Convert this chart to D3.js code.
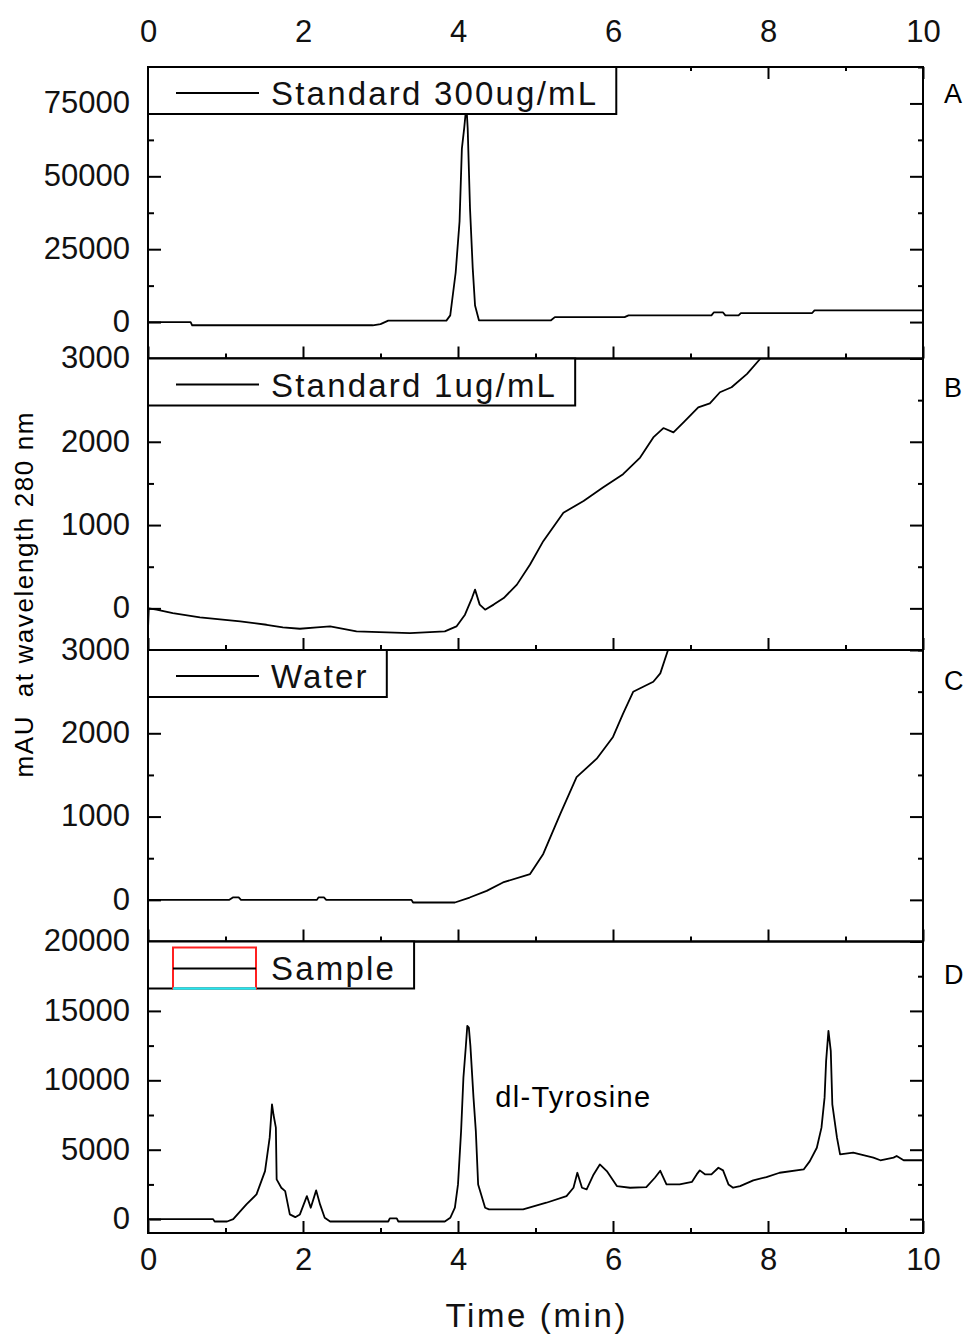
<!DOCTYPE html>
<html>
<head>
<meta charset="utf-8">
<script src="https://cdn.jsdelivr.net/npm/d3@7/dist/d3.min.js"></script>
<style>
  body { margin: 0; background: #fff; }
  svg { display: block; font-family: 'Liberation Sans', Arial, sans-serif; }
</style>
</head>
<body>
<div id="graf"></div>
<script>
// time axis (min)
var timeTicks = [0, 2, 4, 6, 8, 10]
var timeMinor = [1, 3, 5, 7, 9]

// panel letters and legend names
var panelLetters = ['A', 'B', 'C', 'D']
var legendNames = ['Standard 300ug/mL', 'Standard 1ug/mL', 'Water', 'Sample']

// y range and ticks of every panel (mAU)
var domainA = [-12500, 87500]
var domainB = [-500, 3000]
var domainC = [-500, 3000]
var domainD = [-1000, 20000]
var ticksA = [0, 25000, 50000, 75000]
var ticksB = [0, 1000, 2000, 3000]
var ticksC = [0, 1000, 2000, 3000]
var ticksD = [0, 5000, 10000, 15000, 20000]
var minorA = [-12500, 12500, 37500, 62500, 87500]
var minorB = [-500, 500, 1500, 2500]
var minorC = [-500, 500, 1500, 2500]
var minorD = [2500, 7500, 12500, 17500]

// chromatograms, [time, mAU]
var standard300 = [[0,0],[0.55,0],[0.57,-1100],[2.9,-1100],[3.0,-700],[3.1,500],[3.85,500],[3.9,2300],[3.97,17000],
  [4.02,34500],[4.05,59500],[4.08,66500],[4.1,72000],[4.11,73500],[4.125,66500],[4.155,39000],[4.19,18500],[4.22,5700],
  [4.27,600],[5.2,600],[5.25,1700],[6.15,1700],[6.2,2300],[7.27,2300],[7.3,3300],[7.42,3300],[7.45,2300],[7.62,2300],
  [7.65,3100],[8.57,3100],[8.6,4000],[10,4000]]

var standard1 = [[0,-250],[0.01,0],[0.11,-16],[0.32,-56],[0.67,-108],[1.19,-157],[1.53,-197],[1.74,-229],[1.96,-245],
  [2.18,-229],[2.35,-217],[2.69,-277],[3.38,-297],[3.83,-277],[3.98,-217],[4.09,-76],[4.18,124],[4.22,225],[4.28,45],
  [4.35,-16],[4.46,45],[4.59,124],[4.76,285],[4.93,526],[5.10,807],[5.36,1148],[5.62,1289],[5.87,1450],[6.13,1611],
  [6.35,1810],[6.52,2052],[6.65,2165],[6.78,2113],[6.91,2233],[7.10,2414],[7.25,2462],[7.38,2595],[7.53,2655],
  [7.73,2816],[7.90,2997],[8.2,3300]]

var water = [[0,0],[1.05,0],[1.1,30],[1.17,30],[1.2,0],[2.18,0],[2.2,30],[2.27,30],[2.3,0],[3.4,0],[3.42,-32],
  [3.96,-32],[4.15,28],[4.37,108],[4.58,209],[4.93,310],[5.10,551],[5.32,1033],[5.53,1474],[5.79,1695],[6.00,1956],
  [6.13,2237],[6.26,2498],[6.39,2559],[6.52,2619],[6.61,2719],[6.71,3000],[6.8,3300]]

var sample = [[0,0],[0.84,0],[0.86,-170],[1.02,-170],[1.10,0],[1.27,1060],[1.40,1780],[1.51,3460],[1.57,5870],
  [1.60,8270],[1.62,7500],[1.65,6590],[1.66,2860],[1.72,2260],[1.77,2020],[1.83,340],[1.90,140],[1.96,340],[2.05,1660],
  [2.10,820],[2.17,2070],[2.22,1060],[2.28,100],[2.35,-170],[3.10,-170],[3.12,50],[3.21,50],[3.23,-170],[3.83,-170],
  [3.90,95],[3.96,820],[4.00,2500],[4.04,6350],[4.07,10200],[4.10,12360],[4.12,13920],[4.14,13800],[4.16,12480],
  [4.20,8750],[4.23,6350],[4.26,2500],[4.35,820],[4.40,700],[4.84,700],[5.14,1180],[5.40,1660],[5.49,2260],[5.54,3340],
  [5.60,2260],[5.66,2140],[5.75,3220],[5.83,3940],[5.92,3460],[6.05,2380],[6.22,2260],[6.43,2310],[6.54,2980],
  [6.61,3480],[6.69,2500],[6.86,2500],[7.02,2690],[7.08,3220],[7.12,3510],[7.19,3220],[7.27,3220],[7.36,3700],
  [7.42,3510],[7.49,2500],[7.55,2260],[7.64,2380],[7.81,2790],[7.98,3030],[8.15,3340],[8.46,3580],[8.54,4180],
  [8.63,5140],[8.69,6590],[8.73,8750],[8.75,11400],[8.78,13560],[8.81,12120],[8.83,8270],[8.89,5870],[8.93,4670],
  [9.10,4790],[9.19,4670],[9.36,4430],[9.45,4240],[9.62,4430],[9.66,4550],[9.75,4240],[10,4240]]

// peak annotation in panel D: [text, time, mAU]
var annotation = ['dl-Tyrosine', 4.48, 8100]

var panels = [
  { domain: domainA, ticks: ticksA, minor: minorA, data: standard300 },
  { domain: domainB, ticks: ticksB, minor: minorB, data: standard1 },
  { domain: domainC, ticks: ticksC, minor: minorC, data: water },
  { domain: domainD, ticks: ticksD, minor: minorD, data: sample }
]

var ancho_total = 968, alto_total = 1335
var margins = { top: 67, left: 148, right: 45, bottom: 102 }
var ancho = ancho_total - margins.left - margins.right
var alto = alto_total - margins.top - margins.bottom
var ph = alto / panels.length
var tickFont = 31

var svg = d3.select('#graf').append('svg')
  .attr('width', ancho_total)
  .attr('height', alto_total)

var g = svg.append('g')
  .attr('transform', `translate(${ margins.left }, ${ margins.top })`)

var x = d3.scaleLinear().domain([0, 10]).range([0, ancho])

function styleAxis(sel, labels) {
  sel.select('.domain').remove()
  sel.selectAll('line').attr('stroke', '#000').attr('stroke-width', 2)
  sel.attr('font-family', null).attr('font-size', tickFont)
  sel.selectAll('text').attr('fill', '#111')
  if (!labels) sel.selectAll('text').remove()
}

// top axis of panel A (drawn first, the legend box hides part of it)
g.append('g')
  .call(d3.axisTop(x).tickValues(timeTicks).tickSize(-12).tickPadding(25).tickFormat(d3.format('d')))
  .call(s => styleAxis(s, true))
g.append('g')
  .call(d3.axisTop(x).tickValues(timeMinor).tickSize(-4))
  .call(s => styleAxis(s, false))

var line = d3.line()

panels.forEach(function(p, i) {
  var top = i * ph
  var y = d3.scaleLinear().domain(p.domain).range([top + ph, top])
  p.y = y

  // clip so the curve stays inside its panel
  svg.append('defs').append('clipPath')
    .attr('id', 'clip' + i)
    .append('rect')
      .attr('x', 0).attr('y', top)
      .attr('width', ancho).attr('height', ph)

  g.append('path')
    .datum(p.data)
    .attr('clip-path', `url(#clip${ i })`)
    .attr('fill', 'none')
    .attr('stroke', '#000')
    .attr('stroke-width', 1.8)
    .attr('stroke-linejoin', 'round')
    .attr('d', line.x(d => x(d[0])).y(d => y(d[1])))

  // left axis with labels
  g.append('g').call(d3.axisLeft(y).tickValues(p.ticks).tickSize(-13).tickPadding(18).tickFormat(d3.format('d')))
    .call(s => styleAxis(s, true))
    .selectAll('text').attr('dy', '0.3em')
  g.append('g').call(d3.axisLeft(y).tickValues(p.minor).tickSize(-6))
    .call(s => styleAxis(s, false))

  // right axis, ticks only
  g.append('g').attr('transform', `translate(${ ancho }, 0)`)
    .call(d3.axisRight(y).tickValues(p.ticks).tickSize(-13))
    .call(s => styleAxis(s, false))
  g.append('g').attr('transform', `translate(${ ancho }, 0)`)
    .call(d3.axisRight(y).tickValues(p.minor).tickSize(-5))
    .call(s => styleAxis(s, false))

  // bottom ticks of each panel, labels only under the last one
  var last = i == panels.length - 1
  g.append('g').attr('transform', `translate(0, ${ top + ph })`)
    .call(d3.axisBottom(x).tickValues(timeTicks).tickSize(-12).tickPadding(15).tickFormat(d3.format('d')))
    .call(s => styleAxis(s, last))
  g.append('g').attr('transform', `translate(0, ${ top + ph })`)
    .call(d3.axisBottom(x).tickValues(timeMinor).tickSize(-5))
    .call(s => styleAxis(s, false))

  // panel frame
  g.append('rect')
    .attr('x', 0).attr('y', top)
    .attr('width', ancho).attr('height', ph)
    .attr('fill', 'none')
    .attr('stroke', '#000')
    .attr('stroke-width', 2)

  // legend box
  var lg = g.append('g').attr('transform', `translate(0, ${ top })`)
  var box = lg.append('rect')
    .attr('x', 0).attr('y', 0)
    .attr('height', 47)
    .attr('fill', '#fff')
    .attr('stroke', '#000')
    .attr('stroke-width', 2)
  var txt = lg.append('text')
    .attr('x', 123)
    .attr('y', 38)
    .attr('font-size', 33)
    .attr('letter-spacing', '2.2px')
    .attr('fill', '#111')
    .text(legendNames[i])
  if (last) {
    lg.append('rect')
      .attr('x', 25).attr('y', 6)
      .attr('width', 83).attr('height', 41)
      .attr('fill', 'none')
      .attr('stroke', '#ff2020')
      .attr('stroke-width', 2)
    lg.append('line')
      .attr('x1', 25).attr('x2', 108)
      .attr('y1', 47).attr('y2', 47)
      .attr('stroke', '#22e8f0')
      .attr('stroke-width', 2.5)
    lg.append('line')
      .attr('x1', 25).attr('x2', 108)
      .attr('y1', 27).attr('y2', 27)
      .attr('stroke', '#000')
      .attr('stroke-width', 2)
  } else {
    lg.append('line')
      .attr('x1', 28).attr('x2', 111)
      .attr('y1', 26).attr('y2', 26)
      .attr('stroke', '#000')
      .attr('stroke-width', 2)
  }
  box.attr('width', 123 + txt.node().getComputedTextLength() + 18)

  // panel letter on the right
  svg.append('text')
    .attr('x', margins.left + ancho + 21)
    .attr('y', margins.top + top + 36 + i * 2)
    .attr('font-size', 27)
    .attr('fill', '#000')
    .text(panelLetters[i])
})

// peak annotation
var pD = panels[3]
g.append('text')
  .attr('x', x(annotation[1]))
  .attr('y', pD.y(annotation[2]))
  .attr('font-size', 29)
  .attr('textLength', 155)
  .attr('lengthAdjust', 'spacing')
  .attr('fill', '#000')
  .text(annotation[0])

// axis titles
svg.append('text')
  .attr('transform', 'translate(33, 595) rotate(-90)')
  .attr('text-anchor', 'middle')
  .attr('font-size', 26)
  .attr('textLength', 365)
  .attr('lengthAdjust', 'spacing')
  .style('white-space', 'pre')
  .attr('fill', '#000')
  .text('mAU  at wavelength 280 nm')

svg.append('text')
  .attr('x', margins.left + ancho / 2)
  .attr('y', 1327)
  .attr('text-anchor', 'middle')
  .attr('font-size', 33)
  .attr('textLength', 180)
  .attr('lengthAdjust', 'spacing')
  .attr('fill', '#111')
  .text('Time (min)')
</script>
</body>
</html>
